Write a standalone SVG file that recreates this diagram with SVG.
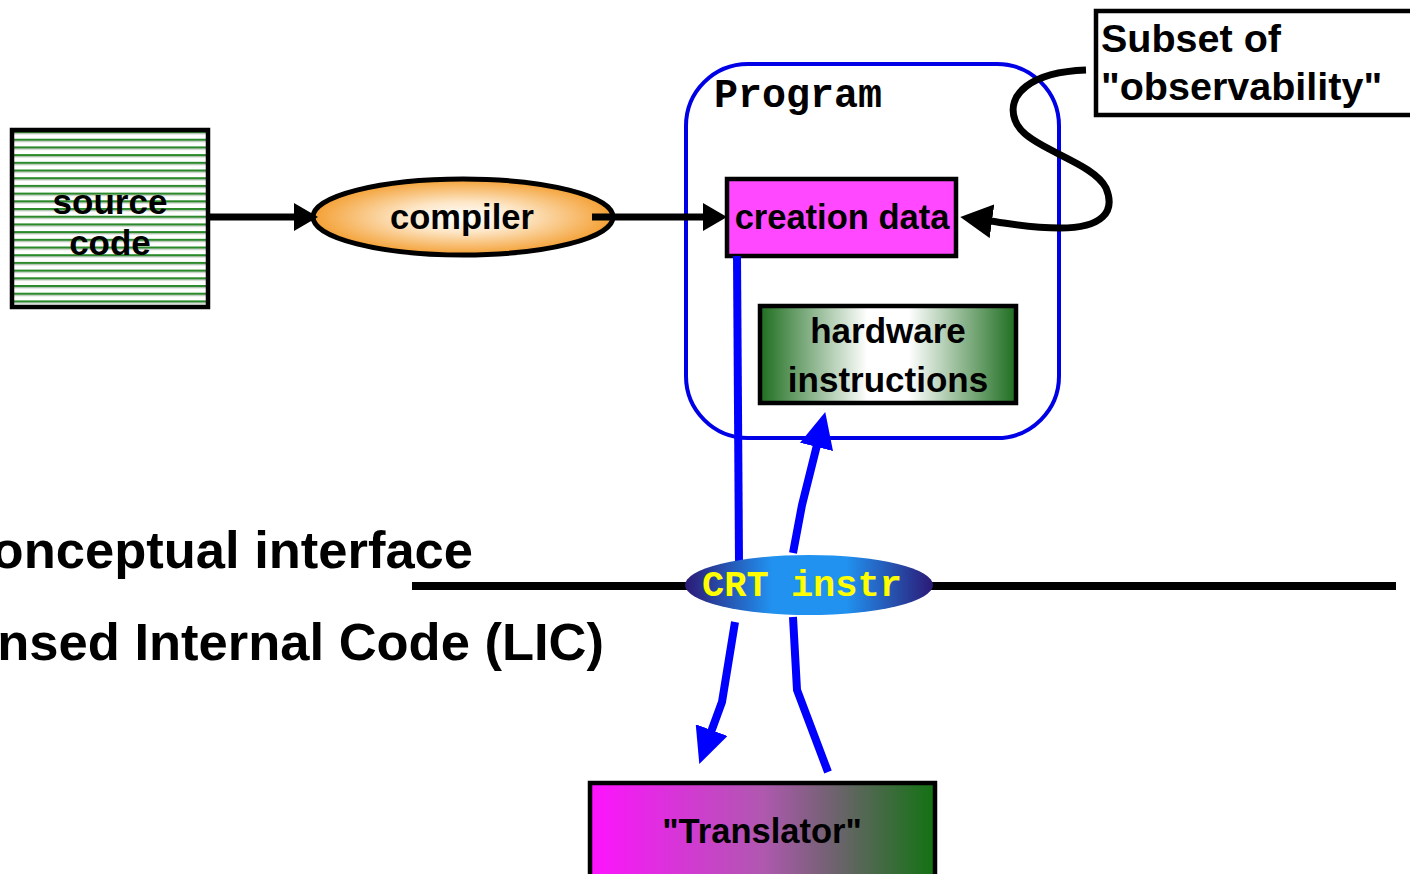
<svg xmlns="http://www.w3.org/2000/svg" width="1410" height="874" viewBox="0 0 1410 874">
  <style>
    .sans { font-family: "Liberation Sans", Arial, sans-serif; font-weight: bold; }
    .mono { font-family: "Liberation Mono", "Courier New", monospace; font-weight: bold; }
    .box { stroke: #000; stroke-width: 4.5; }
    .blk { fill: none; stroke: #000; stroke-width: 7; }
    .blu { fill: none; stroke: #0000ff; stroke-width: 8; }
  </style>
  <defs>
    <pattern id="stripes" patternUnits="userSpaceOnUse" x="0" y="131" width="8" height="7.7">
      <rect width="8" height="7.7" fill="#ffffff"/>
      <rect y="0" width="8" height="2.2" fill="#2a8a2a"/>
      <rect y="2.2" width="8" height="1" fill="#a8b8a8"/>
    </pattern>
    <radialGradient id="orange" cx="0.5" cy="0.5" r="0.5">
      <stop offset="0" stop-color="#ffffff"/>
      <stop offset="0.4" stop-color="#fde6c6"/>
      <stop offset="1" stop-color="#f4a034"/>
    </radialGradient>
    <linearGradient id="greenWhite" x1="0" y1="0" x2="1" y2="0">
      <stop offset="0" stop-color="#1e6e20"/>
      <stop offset="0.42" stop-color="#ffffff"/>
      <stop offset="0.58" stop-color="#ffffff"/>
      <stop offset="1" stop-color="#1e6e20"/>
    </linearGradient>
    <linearGradient id="magGreen" x1="0" y1="0" x2="1" y2="0">
      <stop offset="0" stop-color="#ff12ff"/>
      <stop offset="0.5" stop-color="#b058b0"/>
      <stop offset="1" stop-color="#127212"/>
    </linearGradient>
    <linearGradient id="crt" x1="0" y1="0" x2="1" y2="0">
      <stop offset="0" stop-color="#2b1a76"/>
      <stop offset="0.35" stop-color="#2192f0"/>
      <stop offset="0.65" stop-color="#2192f0"/>
      <stop offset="1" stop-color="#2b1a76"/>
    </linearGradient>
    <marker id="headBlack" markerUnits="userSpaceOnUse" markerWidth="26" markerHeight="28" refX="2" refY="14" orient="auto">
      <path d="M0,0 L24,14 L0,28 Z" fill="#000"/>
    </marker>
    <marker id="headBlackWide" markerUnits="userSpaceOnUse" markerWidth="34" markerHeight="34" refX="2" refY="17" orient="auto">
      <path d="M0,0 L32,17 L0,34 Z" fill="#000"/>
    </marker>
    <marker id="headBlue" markerUnits="userSpaceOnUse" markerWidth="38" markerHeight="34" refX="2" refY="17" orient="auto">
      <path d="M0,0 L36,17 L0,34 Z" fill="#0000ff"/>
    </marker>
  </defs>

  <!-- interface level labels -->
  <g id="levels">
    <text class="sans" x="473" y="568" font-size="52.5" text-anchor="end">Conceptual interface</text>
    <text class="sans" x="604" y="660" font-size="52.5" text-anchor="end">Licensed Internal Code (LIC)</text>
    <line x1="412" y1="586" x2="1396" y2="586" stroke="#000" stroke-width="8"/>
  </g>

  <!-- program container -->
  <g id="program">
    <rect x="686" y="64" width="373" height="374" rx="62" fill="none" stroke="#0000e6" stroke-width="4"/>
    <text class="mono" x="714" y="107" font-size="40">Program</text>
  </g>

  <g id="source-code">
    <rect class="box" x="12" y="130" width="196" height="177" fill="url(#stripes)"/>
    <text class="sans" x="110" y="214" font-size="35" text-anchor="middle">source</text>
    <text class="sans" x="110" y="255" font-size="35" text-anchor="middle">code</text>
  </g>

  <g id="compiler">
    <ellipse cx="463" cy="217" rx="150" ry="38" fill="url(#orange)" stroke="#000" stroke-width="5"/>
    <text class="sans" x="462" y="229" font-size="34.5" text-anchor="middle">compiler</text>
  </g>

  <g id="creation-data">
    <rect class="box" x="727" y="179" width="229" height="77" fill="#ff48ff"/>
    <text class="sans" x="842" y="229" font-size="34.5" text-anchor="middle">creation data</text>
  </g>

  <g id="hardware-instructions">
    <rect class="box" x="760" y="306" width="256" height="97" fill="url(#greenWhite)"/>
    <text class="sans" x="888" y="343" font-size="35" text-anchor="middle">hardware</text>
    <text class="sans" x="888" y="392" font-size="35" text-anchor="middle">instructions</text>
  </g>

  <g id="observability">
    <rect class="box" x="1096" y="11" width="330" height="104" fill="#ffffff"/>
    <text class="sans" x="1101" y="52" font-size="39.5">Subset of</text>
    <text class="sans" x="1101" y="100" font-size="39.5">"observability"</text>
  </g>

  <g id="translator">
    <rect class="box" x="590" y="783" width="345" height="100" fill="url(#magGreen)"/>
    <text class="sans" x="762" y="843" font-size="34.5" text-anchor="middle">"Translator"</text>
  </g>

  <g id="connectors">
    <path class="blk" d="M208,217 L296,217" marker-end="url(#headBlack)"/>
    <path class="blk" d="M592,217 L705,217" marker-end="url(#headBlack)"/>
    <path class="blk" stroke-width="9" d="M1086,70 C1030,72 1006,95 1015,120 C1024,148 1092,160 1106,188 C1116,212 1102,228 1060,228 C1030,228 1012,224 990,221" marker-end="url(#headBlackWide)"/>
    <path class="blu" d="M737,256 L739,562"/>
    <path class="blu" d="M793,553 L802,505 L817,445" marker-end="url(#headBlue)"/>
    <path class="blu" d="M735,622 L722,702 L711,732" marker-end="url(#headBlue)"/>
    <path class="blu" d="M793,617 L797,690 L828,772"/>
  </g>

  <g id="crt-instr">
    <ellipse cx="809" cy="585" rx="124" ry="30" fill="url(#crt)"/>
    <text class="mono" x="802" y="596" font-size="37" fill="#ffff00" text-anchor="middle">CRT instr</text>
  </g>
</svg>
